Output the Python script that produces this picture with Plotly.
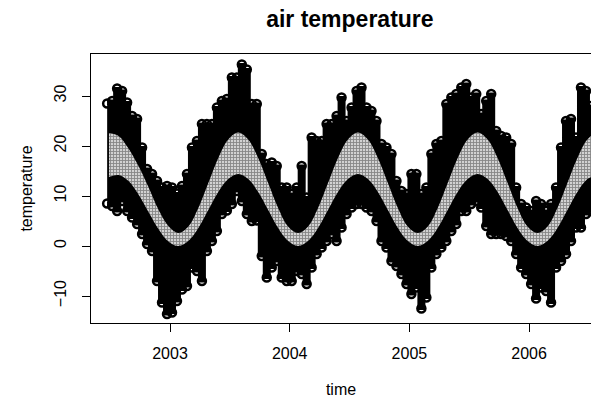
import plotly.graph_objects as go

# ---- data ----
# envelope sample times (half-month grid, decimal years)
env_start = 2002.475
env_step = 1 / 24
temp_high = [28.5, 29, 31.5, 31, 28.7, 26, 25.4, 19.7, 15.4, 14.4,
             13, 11.7, 12, 11.7, 10.5, 12, 14.4, 19.7, 21, 24.4,
             24.4, 24.4, 27.7, 29, 29.4, 33.7, 33.7, 36.3, 35.3, 28.4,
             28.4, 18.4, 16.4, 16.7, 16, 11.7, 11.7, 10.4, 11.7, 16,
             9.7, 21.7, 21, 21, 24.4, 24.4, 26, 29.7, 25, 27.7,
             31, 31.7, 27.7, 27, 25, 20.4, 19.7, 18.4, 13, 11,
             10.4, 14.4, 14.4, 10.4, 11.7, 18.4, 20.4, 21, 28.4, 29.7,
             30.4, 31.7, 32.4, 29.7, 30.4, 26.4, 29, 30.4, 23, 22,
             21.7, 20.4, 11.7, 8.4, 7.7, 7, 9, 8.4, 7, 8.4,
             11.7, 19.7, 25, 25.4, 21.7, 31.7, 31, 28]
temp_low = [8.5, 8, 7, 9, 7, 5.7, 4.4, 2.4, 0.4, -1,
            -7, -11.3, -13.6, -13.3, -11, -8.7, -8, -4.3, -5, -7,
            -1, 1, 3, 6.4, 7.1, 8.4, 11, 9, 6.4, 5,
            5.1, -2, -6.3, -4.3, -3, -6.3, -7, -7, -5, -5.6,
            -7.6, -4.3, -1.6, -0.3, 1, 2.4, 1, 3.7, 6.4, 7.7,
            8.4, 8.4, 7.7, 7, 5, 1, -0.3, -3, -4, -5.6,
            -7.6, -9.6, -8.3, -12.5, -10.3, -4.3, -1.6, -0.3, 1, 3,
            4.4, 7, 7, 8.4, 9, 7.7, 4, 2.4, 2.4, 2.4,
            2, 1, -1.6, -4.3, -5.6, -7.6, -10.5, -8.3, -9, -11.3,
            -4.3, -3, -1.6, 1, 3.7, 3.7, 6.4, 7]
env_time = [round(env_start + i * env_step, 4) for i in range(len(temp_high))]

# smooth seasonal band (monthly samples)
band_time = [2002.49] + [round(2002.57 + k / 12, 4) for k in range(49)]
band_upper = [22.6, 22.0, 19.5, 16.0, 11.8, 7.3, 4.0,
              2.6, 3.9, 7.6, 12.6, 17.6, 21.3, 22.7, 21.3, 17.6, 12.6, 7.6, 3.9,
              2.6, 3.9, 7.6, 12.6, 17.6, 21.3, 22.7, 21.3, 17.6, 12.6, 7.6, 3.9,
              2.6, 3.9, 7.6, 12.6, 17.6, 21.3, 22.7, 21.3, 17.6, 12.6, 7.6, 3.9,
              2.6, 3.9, 7.6, 12.6, 17.6, 21.3, 22.7]
band_lower = [13.8, 14.2, 13.0, 10.3, 6.8, 3.4, 0.9,
              0.0, 1.0, 3.6, 7.2, 10.8, 13.4, 14.4, 13.4, 10.8, 7.2, 3.6, 1.0,
              0.0, 1.0, 3.6, 7.2, 10.8, 13.4, 14.4, 13.4, 10.8, 7.2, 3.6, 1.0,
              0.0, 1.0, 3.6, 7.2, 10.8, 13.4, 14.4, 13.4, 10.8, 7.2, 3.6, 1.0,
              0.0, 1.0, 3.6, 7.2, 10.8, 13.4, 14.4]

year_ticks = [2003, 2004, 2005, 2006]
year_labels = ["2003", "2004", "2005", "2006"]
temp_ticks = [-10, 0, 10, 20, 30]

FONT = "Liberation Sans, Arial, Helvetica, sans-serif"

fig = go.Figure()

# black mass of observations
fig.add_trace(go.Scatter(
    x=env_time + env_time[::-1],
    y=temp_high + temp_low[::-1],
    mode="lines", fill="toself", fillcolor="black",
    line=dict(color="black", width=3, shape="hvh"),
    hoverinfo="skip", showlegend=False))
fig.add_trace(go.Scatter(
    x=env_time + env_time,
    y=temp_high + temp_low,
    mode="markers",
    marker=dict(symbol="circle-open", size=8, color="black",
                line=dict(width=2.5, color="black")),
    hoverinfo="skip", showlegend=False))

# seasonal band
fig.add_trace(go.Scatter(
    x=band_time + band_time[::-1],
    y=band_upper + band_lower[::-1],
    mode="lines", fill="toself",
    fillcolor="#9a9a9a",
    fillpattern=dict(shape="+", fgcolor="#3a3a3a", bgcolor="#d2d2d2",
                     size=3, solidity=0.5),
    line=dict(width=0, shape="spline", color="rgba(0,0,0,0)"),
    hoverinfo="skip", showlegend=False))

fig.update_layout(
    width=591, height=398,
    margin=dict(l=91, r=0, t=54, b=75),
    paper_bgcolor="white", plot_bgcolor="white",
    font=dict(family=FONT, size=16, color="black"),
    title=dict(text="<b>air temperature</b>", x=0.592, xanchor="center",
               y=0.952, yanchor="middle",
               font=dict(family=FONT, size=23, color="black")),
    xaxis=dict(range=[2002.340, 2006.517], tickvals=year_ticks,
               ticktext=year_labels, ticks="outside", ticklen=8,
               tickcolor="black", showline=True, mirror=True,
               linecolor="black", linewidth=1, showgrid=False,
               zeroline=False, ticklabelstandoff=8,
               title=dict(text="time", standoff=23,
                          font=dict(family=FONT, size=16))),
    yaxis=dict(range=[-15.4, 38.4], tickvals=temp_ticks, ticks="outside",
               ticklen=8, tickcolor="black", showline=True, mirror=False,
               linecolor="black", linewidth=1, showgrid=False,
               zeroline=False, tickangle=-90, ticklabelstandoff=10,
               title=dict(text="temperature", standoff=14,
                          font=dict(family=FONT, size=16))),
)

fig.write_html("out.html")
